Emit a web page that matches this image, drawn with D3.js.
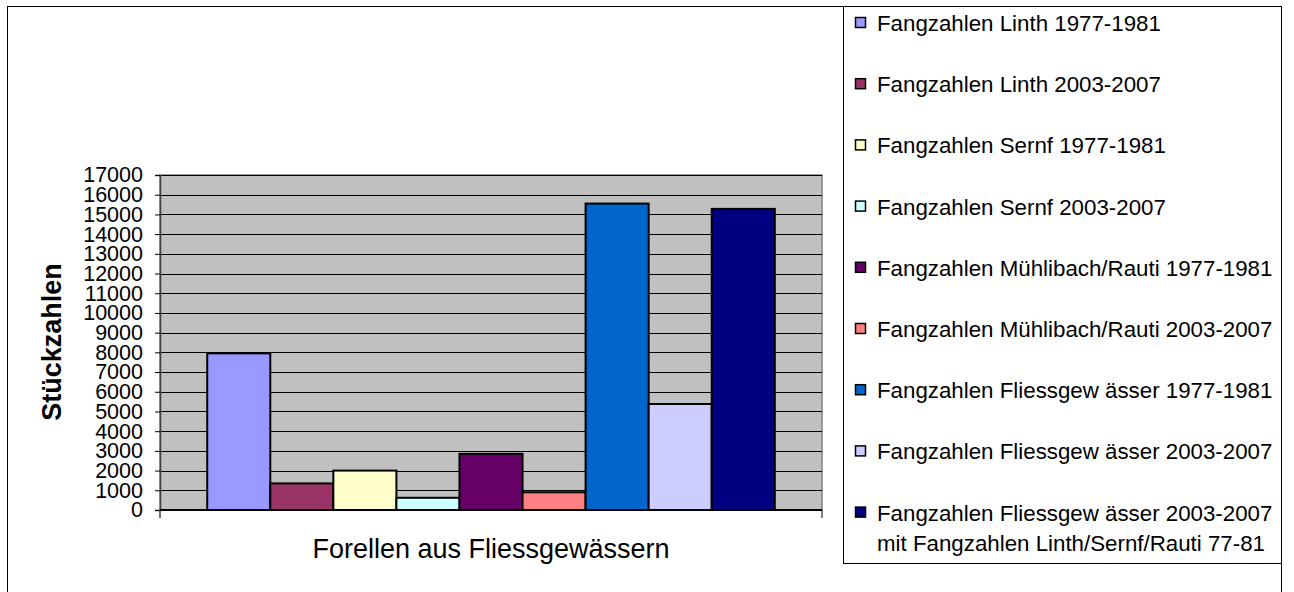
<!DOCTYPE html>
<html>
<head>
<meta charset="utf-8">
<script src="https://cdn.jsdelivr.net/npm/d3@7"></script>
<style>
  html, body { margin: 0; padding: 0; background: #fff; }
  svg { display: block; }
  text { font-family: "Liberation Sans", Arial, sans-serif; fill: #000; }
</style>
</head>
<body>
<svg id="chart" width="1294" height="592"></svg>
<script>
// ---- data ----
const categories = ["Forellen aus Fliessgewässern"];
const seriesNames = [
  "Fangzahlen Linth 1977-1981",
  "Fangzahlen Linth 2003-2007",
  "Fangzahlen Sernf 1977-1981",
  "Fangzahlen Sernf 2003-2007",
  "Fangzahlen Mühlibach/Rauti 1977-1981",
  "Fangzahlen Mühlibach/Rauti 2003-2007",
  "Fangzahlen Fliessgew ässer 1977-1981",
  "Fangzahlen Fliessgew ässer 2003-2007",
  "Fangzahlen Fliessgew ässer 2003-2007\nmit Fangzahlen Linth/Sernf/Rauti 77-81"
];
const seriesValues = [7950, 1350, 2000, 620, 2850, 900, 15550, 5380, 15280];
const seriesColors = ["#9999FF", "#993366", "#FFFFCC", "#CCFFFF", "#660066", "#FF8080", "#0066CC", "#CCCCFF", "#000080"];
const yTicks = d3.range(0, 17001, 1000);
const yTitle = "Stückzahlen";

// ---- layout ----
const svg = d3.select("#chart");
const plot = { left: 160, right: 822, top: 175, bottom: 510 };

// chart area border
svg.append("rect")
  .attr("x", 7.5).attr("y", 6.5)
  .attr("width", 1274).attr("height", 600)
  .attr("fill", "#fff").attr("stroke", "#000").attr("stroke-width", 1);

const y = d3.scaleLinear().domain([0, 17000]).range([plot.bottom, plot.top]);
const x0 = d3.scaleBand().domain(categories).range([plot.left, plot.right]).paddingOuter(0.0832).paddingInner(0);
const x1 = d3.scaleBand().domain(seriesNames).range([0, x0.bandwidth()]).padding(0);

// plot background
svg.append("rect")
  .attr("x", plot.left).attr("y", plot.top)
  .attr("width", plot.right - plot.left).attr("height", plot.bottom - plot.top)
  .attr("fill", "#C0C0C0").attr("stroke", "#808080").attr("stroke-width", 1.5);

// gridlines
svg.append("g").selectAll("line").data(yTicks.filter(d => d > 0)).join("line")
  .attr("x1", plot.left).attr("x2", plot.right)
  .attr("y1", d => Math.round(y(d)) + 0.5).attr("y2", d => Math.round(y(d)) + 0.5)
  .attr("stroke", "#000").attr("stroke-width", 1);

// bars
const g = svg.append("g").attr("transform", `translate(${x0(categories[0])},0)`);
g.selectAll("rect").data(seriesValues).join("rect")
  .attr("x", (d, i) => x1(seriesNames[i]))
  .attr("y", d => y(d))
  .attr("width", x1.bandwidth())
  .attr("height", d => y(0) - y(d))
  .attr("fill", (d, i) => seriesColors[i])
  .attr("stroke", "#000").attr("stroke-width", 2);

// y axis
const yAxis = d3.axisLeft(y).tickValues(yTicks).tickSize(5).tickPadding(12).tickFormat(d3.format("d"));
const ya = svg.append("g").attr("transform", `translate(${plot.left},0)`).call(yAxis);
ya.select(".domain").attr("stroke", "#404040").attr("stroke-width", 1.5);
ya.selectAll(".tick line").attr("stroke", "#000");
ya.selectAll(".tick text").attr("font-size", 21.5).attr("font-family", "Liberation Sans, Arial, sans-serif").attr("fill", "#000");
// extend axis below
svg.append("line").attr("x1", plot.left).attr("x2", plot.left).attr("y1", plot.bottom).attr("y2", plot.bottom + 8)
  .attr("stroke", "#404040").attr("stroke-width", 1.5);

// x axis
svg.append("line").attr("x1", plot.left).attr("x2", plot.right).attr("y1", plot.bottom).attr("y2", plot.bottom)
  .attr("stroke", "#000").attr("stroke-width", 2);
svg.append("line").attr("x1", plot.right).attr("x2", plot.right).attr("y1", plot.bottom).attr("y2", plot.bottom + 8)
  .attr("stroke", "#000").attr("stroke-width", 1);
svg.append("text")
  .attr("x", x0(categories[0]) + x0.bandwidth() / 2)
  .attr("y", 558)
  .attr("text-anchor", "middle")
  .attr("font-size", 27)
  .text(categories[0]);

// y title
svg.append("text")
  .attr("transform", `translate(61,${342}) rotate(-90)`)
  .attr("text-anchor", "middle")
  .attr("font-size", 27)
  .attr("font-weight", "bold")
  .text(yTitle);

// legend
const legend = { left: 843, top: 6.5, right: 1282, bottom: 563.5 };
svg.append("rect")
  .attr("x", legend.left + 0.5).attr("y", legend.top)
  .attr("width", legend.right - legend.left - 1).attr("height", legend.bottom - legend.top)
  .attr("fill", "#fff").attr("stroke", "#000").attr("stroke-width", 1);

const li = svg.append("g").selectAll("g").data(seriesNames).join("g")
  .attr("transform", (d, i) => `translate(0,${23 + i * 61.2})`);
li.append("rect")
  .attr("x", 855.5).attr("y", -5.5).attr("width", 10).attr("height", 10)
  .attr("fill", (d, i) => seriesColors[i]).attr("stroke", "#000").attr("stroke-width", 1.5);
li.each(function(d) {
  const lines = d.split("\n");
  const t = d3.select(this).append("text")
    .attr("x", 877).attr("y", 8)
    .attr("font-size", 22.3);
  lines.forEach((ln, k) => {
    t.append("tspan").attr("x", 877).attr("dy", k === 0 ? 0 : 30).text(ln);
  });
});
</script>
</body>
</html>
